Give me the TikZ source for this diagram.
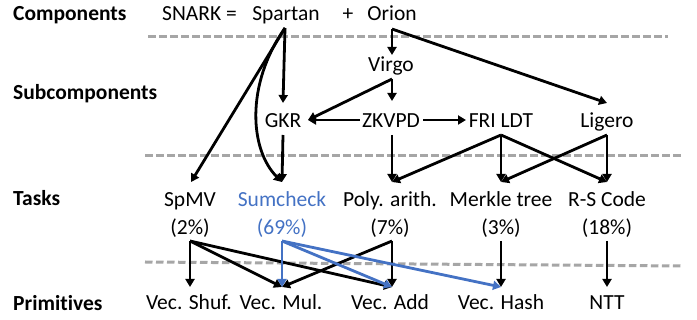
\documentclass[tikz,border=0pt]{standalone}
\usepackage{fontspec}
\setmainfont[Ligatures=NoCommon]{Carlito}
\usetikzlibrary{arrows.meta}
\definecolor{sumblue}{HTML}{4472C4}
\definecolor{dashgray}{HTML}{A6A6A6}
\begin{document}
\begin{tikzpicture}[x=1pt,y=-1pt,
  txt/.style={inner sep=0pt,anchor=base,font=\fontsize{21.5}{26}\selectfont},
  lbl/.style={inner sep=0pt,anchor=base west,font=\fontsize{21.5}{26}\selectfont\bfseries},
  arr/.style={line width=2.8pt,-{Triangle[length=8pt,width=9pt]}},
  barr/.style={arr,draw=sumblue},
  sep/.style={draw=dashgray,line width=3pt,dash pattern=on 7.5pt off 3.5pt}]
\useasboundingbox (0,0) rectangle (697,320);
% separators
\draw[sep] (148,37) -- (668,37);
\draw[sep] (145,156) -- (682,156);
\draw[sep] (145,262) -- (682,266);
% row labels
\node[lbl] (lcomp) at (13,21) {Components};
\node[lbl] (lsub) at (13,100) {Subcomponents};
\node[lbl] (ltask) at (13,206) {Tasks};
\node[lbl] (lprim) at (13,311) {Primitives};
% components
\node[txt,anchor=base west] (snark) at (162,21) {SNARK =};
\node[txt] (spartan) at (286,21) {Spartan};
\node[txt] (plus) at (348,21) {+};
\node[txt] (orion) at (392,21) {Orion};
% subcomponents
\node[txt] (virgo) at (391,72) {Virgo};
\node[txt] (gkr) at (283,128) {GKR};
\node[txt] (zkvpd) at (391,128) {ZKVPD};
\node[txt] (fri) at (501,128) {FRI LDT};
\node[txt] (ligero) at (607,128) {Ligero};
% tasks
\node[txt] (spmv) at (190,207) {SpMV};
\node[txt] (spmvp) at (190,235) {(2\%)};
\node[txt,text=sumblue] (sum) at (282,207) {Sumcheck};
\node[txt,text=sumblue] (sump) at (282,235) {(69\%)};
\node[txt] (poly) at (390,207) {Poly. arith.};
\node[txt] (polyp) at (390,235) {(7\%)};
\node[txt] (merk) at (501,207) {Merkle tree};
\node[txt] (merkp) at (501,235) {(3\%)};
\node[txt] (rs) at (607,207) {R-S Code};
\node[txt] (rsp) at (607,235) {(18\%)};
% primitives
\node[txt] (shuf) at (189,310) {Vec. Shuf.};
\node[txt] (mul) at (281,310) {Vec. Mul.};
\node[txt] (add) at (390,310) {Vec. Add};
\node[txt] (hash) at (501,310) {Vec. Hash};
\node[txt] (ntt) at (607,310) {NTT};
% ports
\coordinate (spartanB) at (285,28);
\coordinate (orionB) at (392,29);
\coordinate (virgoT) at (392,55);
\coordinate (virgoB) at (392,79);
\coordinate (gkrT) at (283,103);
\coordinate (gkrR) at (308,120);
\coordinate (gkrB) at (283,135);
\coordinate (zkL) at (360,120);
\coordinate (zkT) at (392,101);
\coordinate (zkR) at (423,120);
\coordinate (zkB) at (392,135);
\coordinate (friL) at (466,120);
\coordinate (friB) at (501,135);
\coordinate (ligT) at (607,103);
\coordinate (ligB) at (607,135);
\coordinate (spmvT) at (191,182);
\coordinate (sumT) at (282,182);
\coordinate (polyT) at (392,182);
\coordinate (merkT) at (501,182);
\coordinate (rsT) at (607,182);
\coordinate (spmvB) at (190,241);
\coordinate (sumB) at (282,241);
\coordinate (polyB) at (392,241);
\coordinate (merkB) at (501,241);
\coordinate (rsB) at (607,241);
\coordinate (shufT) at (190,287);
\coordinate (mulT) at (282,287);
\coordinate (addT) at (392,287);
\coordinate (hashT) at (501,287);
\coordinate (nttT) at (607,287);
% component -> subcomponent
\draw[arr] (spartanB) -- (gkrT);
\draw[arr] (spartanB) -- (spmvT);
\draw[arr] (spartanB) .. controls (245,85) and (250,150) .. (sumT);
\draw[arr] (orionB) -- (virgoT);
\draw[arr] (orionB) -- (ligT);
\draw[arr] (virgoB) -- (gkrR);
\draw[arr] (virgoB) -- (zkT);
\draw[arr] (zkL) -- (gkrR);
\draw[arr] (zkR) -- (friL);
% subcomponent -> task
\draw[arr] (gkrB) -- (sumT);
\draw[arr] (zkB) -- (polyT);
\draw[arr] (friB) -- (polyT);
\draw[arr] (friB) -- (merkT);
\draw[arr] (friB) -- (rsT);
\draw[arr] (ligB) -- (merkT);
\draw[arr] (ligB) -- (rsT);
% task -> primitive
\draw[arr] (spmvB) -- (shufT);
\draw[arr] (spmvB) -- (mulT);
\draw[arr] (spmvB) -- (addT);
\draw[arr] (polyB) -- (mulT);
\draw[arr] (polyB) -- (addT);
\draw[arr] (merkB) -- (hashT);
\draw[arr] (rsB) -- (nttT);
\draw[barr] (sumB) -- (mulT);
\draw[barr] (sumB) -- (addT);
\draw[barr] (sumB) -- (hashT);
\end{tikzpicture}
\end{document}
